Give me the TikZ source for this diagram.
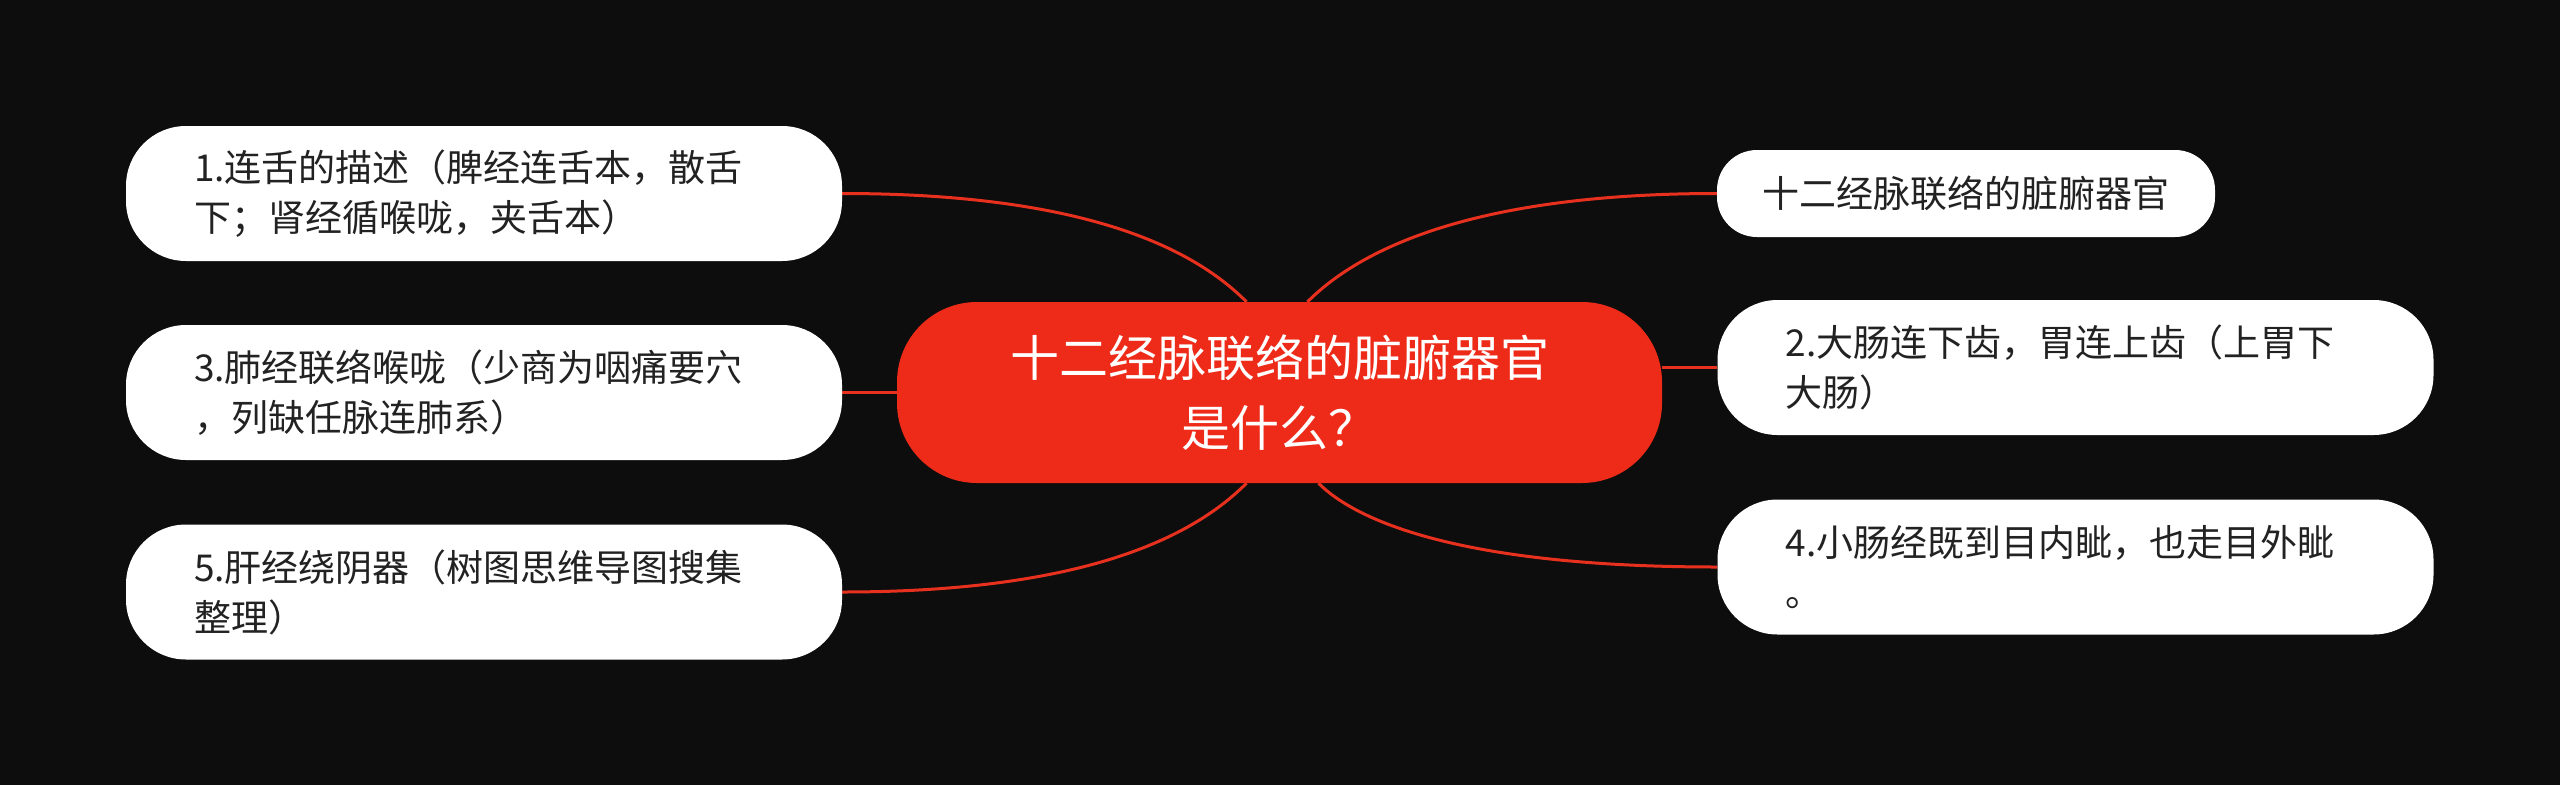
\documentclass[tikz,border=0pt]{standalone}
\usepackage{fontspec}
\setmainfont{Noto Sans CJK SC}
\usetikzlibrary{calc}
\definecolor{bgc}{HTML}{0D0D0D}
\definecolor{mainred}{HTML}{EE2A18}
\definecolor{linered}{HTML}{E8301E}
\definecolor{txt}{HTML}{222222}
\pgfdeclarelayer{bglayer}
\pgfdeclarelayer{connlayer}
\pgfsetlayers{bglayer,connlayer,main}
\tikzset{
  leaf/.style={fill=white, rounded corners=60pt, minimum height=135pt,
    text width=580pt, inner xsep=68pt, inner ysep=0pt, align=left,
    text=txt, font=\fontsize{37pt}{50pt}\selectfont},
  leafsmall/.style={fill=white, rounded corners=40pt, minimum height=87pt,
    minimum width=498pt, inner sep=0pt, align=center,
    text=txt, font=\fontsize{37pt}{50pt}\selectfont},
  root/.style={fill=mainred, rounded corners=80pt, minimum height=181pt,
    minimum width=765pt, inner sep=0pt, align=center,
    text=white, font=\fontsize{49pt}{70pt}\selectfont},
  conn/.style={draw=linered, line width=3pt}
}
\begin{document}
\begin{tikzpicture}[x=1pt,y=-1pt]
\begin{pgfonlayer}{bglayer}
\fill[bgc] (0,0) rectangle (2560,785);
\end{pgfonlayer}
\useasboundingbox (0,0) rectangle (2560,785);

\node[root] (c) at (1279.5,392.5) {十二经脉联络的脏腑器官\\是什么？};

\node[leaf] (n1) at (484,193.5) {1.连舌的描述（脾经连舌本，散舌\\下；肾经循喉咙，夹舌本）};
\node[leaf] (n3) at (484,392.5) {3.肺经联络喉咙（少商为咽痛要穴\\，列缺任脉连肺系）};
\node[leaf] (n5) at (484,592) {5.肝经绕阴器（树图思维导图搜集\\整理）};

\node[leafsmall] (t) at (1966,193.5) {十二经脉联络的脏腑器官};
\node[leaf] (n2) at (2075.5,367.5) {2.大肠连下齿，胃连上齿（上胃下\\大肠）};
\node[leaf] (n4) at (2075.5,567) {4.小肠经既到目内眦，也走目外眦\\。};

\coordinate (ct1) at ($(c.north)+(-33,0)$);
\coordinate (ct2) at ($(c.north)+(28,0)$);
\coordinate (cb1) at ($(c.south)+(-33,0)$);
\coordinate (cb2) at ($(c.south)+(39,0)$);

\begin{pgfonlayer}{connlayer}
\draw[conn] (n1.east) .. controls +(260,0) and +(-45,-45) .. (ct1);
\draw[conn] (t.west) .. controls +(-260,0) and +(45,-45) .. (ct2);
\draw[conn] (n5.east) .. controls +(260,0) and +(-45,45) .. (cb1);
\draw[conn] (n4.west) .. controls +(-250,0) and +(40,40) .. (cb2);
\draw[conn] (c.west) -- (n3.east);
\draw[conn] (c.east |- n2.west) -- (n2.west);
\end{pgfonlayer}
\end{tikzpicture}
\end{document}
